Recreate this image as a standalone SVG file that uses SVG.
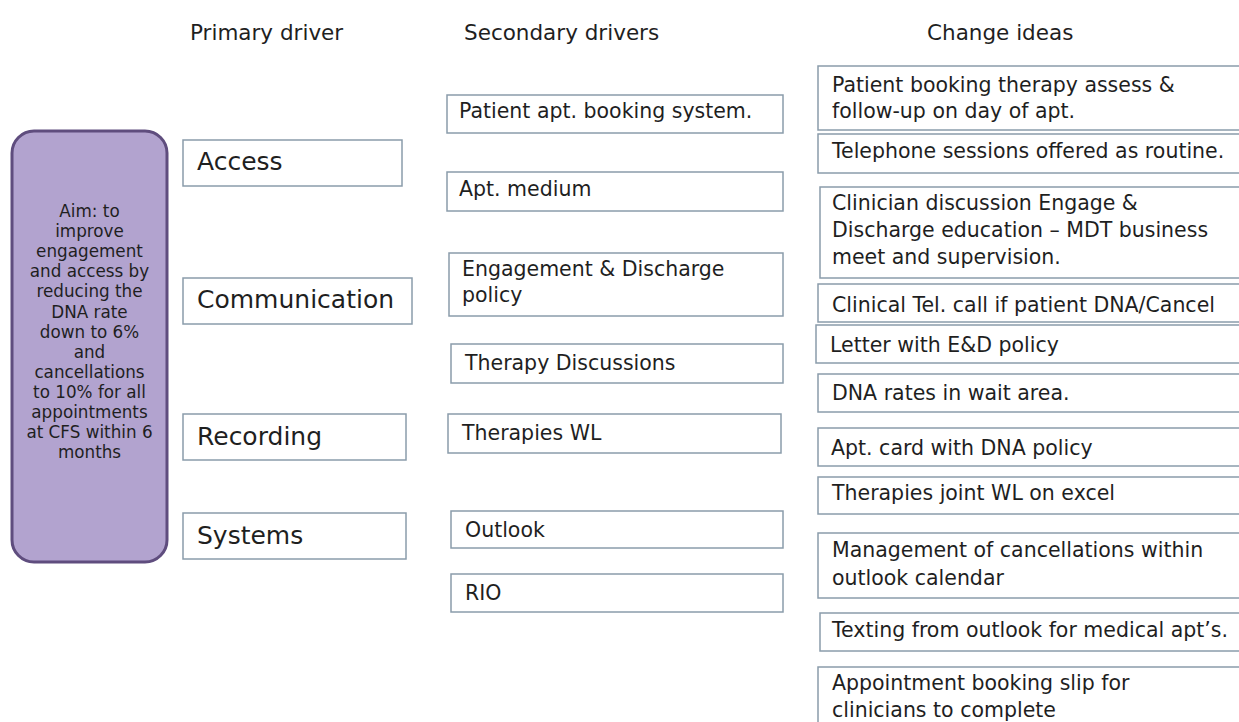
<svg xmlns="http://www.w3.org/2000/svg" width="1239" height="722" viewBox="0 0 1239 722">
<style>
text{font-family:"DejaVu Sans","Open Sans",sans-serif;fill:#1f1f1f}
.hd{font-size:21.5px}
.pb{font-size:25px}
.sb{font-size:20.5px}
.ab{font-size:16.8px;text-anchor:middle}
.box{fill:#ffffff;stroke:#8a9cab;stroke-width:1.5}
</style>
<rect width="1239" height="722" fill="#ffffff"/>
<g id="headers">
<text class="hd" x="190" y="40">Primary driver</text>
<text class="hd" x="464" y="40">Secondary drivers</text>
<text class="hd" x="927" y="40">Change ideas</text>
</g>
<g id="aim">
<rect x="12" y="131" width="155" height="431" rx="22" fill="#b2a3cf" stroke="#5f4d7e" stroke-width="3"/>
<text class="ab" x="89.5" y="217">Aim: to</text>
<text class="ab" x="89.5" y="237">improve</text>
<text class="ab" x="89.5" y="257">engagement</text>
<text class="ab" x="89.5" y="277">and access by</text>
<text class="ab" x="89.5" y="297">reducing the</text>
<text class="ab" x="89.5" y="318">DNA rate</text>
<text class="ab" x="89.5" y="338">down to 6%</text>
<text class="ab" x="89.5" y="358">and</text>
<text class="ab" x="89.5" y="378">cancellations</text>
<text class="ab" x="89.5" y="398">to 10% for all</text>
<text class="ab" x="89.5" y="418">appointments</text>
<text class="ab" x="89.5" y="438">at CFS within 6</text>
<text class="ab" x="89.5" y="458">months</text>
</g>
<g id="primary-access"><rect class="box" x="183" y="140" width="219" height="46"/><text class="pb" x="197" y="170">Access</text></g>
<g id="primary-communication"><rect class="box" x="183" y="278" width="229" height="46"/><text class="pb" x="197" y="308">Communication</text></g>
<g id="primary-recording"><rect class="box" x="183" y="414" width="223" height="46"/><text class="pb" x="197" y="445">Recording</text></g>
<g id="primary-systems"><rect class="box" x="183" y="513" width="223" height="46"/><text class="pb" x="197" y="544">Systems</text></g>
<g id="sec-booking"><rect class="box" x="447" y="95" width="336" height="38"/><text class="sb" x="459" y="118">Patient apt. booking system.</text></g>
<g id="sec-medium"><rect class="box" x="447" y="172" width="336" height="39"/><text class="sb" x="459" y="196">Apt. medium</text></g>
<g id="sec-engagement"><rect class="box" x="449" y="253" width="334" height="63"/><text class="sb" x="462" y="276">Engagement &amp; Discharge</text><text class="sb" x="462" y="302">policy</text></g>
<g id="sec-therapy-discussions"><rect class="box" x="451" y="344" width="332" height="39"/><text class="sb" x="465" y="370">Therapy Discussions</text></g>
<g id="sec-therapies-wl"><rect class="box" x="448" y="414" width="333" height="39"/><text class="sb" x="462" y="440">Therapies WL</text></g>
<g id="sec-outlook"><rect class="box" x="451" y="511" width="332" height="37"/><text class="sb" x="465" y="537">Outlook</text></g>
<g id="sec-rio"><rect class="box" x="451" y="574" width="332" height="38"/><text class="sb" x="465" y="600">RIO</text></g>
<g id="idea-1"><rect class="box" x="818" y="66" width="440" height="64"/><text class="sb" x="832" y="92">Patient booking therapy assess &amp;</text><text class="sb" x="832" y="118">follow-up on day of apt.</text></g>
<g id="idea-2"><rect class="box" x="818" y="134" width="440" height="39"/><text class="sb" x="832" y="158">Telephone sessions offered as routine.</text></g>
<g id="idea-3"><rect class="box" x="820" y="187" width="440" height="91"/><text class="sb" x="832" y="210">Clinician discussion Engage &amp;</text><text class="sb" x="832" y="237">Discharge education – MDT business</text><text class="sb" x="832" y="264">meet and supervision.</text></g>
<g id="idea-4"><rect class="box" x="818" y="284" width="440" height="38"/><text class="sb" x="832" y="312">Clinical Tel. call if patient DNA/Cancel</text></g>
<g id="idea-5"><rect class="box" x="816" y="325" width="440" height="38"/><text class="sb" x="830" y="352">Letter with E&amp;D policy</text></g>
<g id="idea-6"><rect class="box" x="818" y="374" width="440" height="38"/><text class="sb" x="832" y="400">DNA rates in wait area.</text></g>
<g id="idea-7"><rect class="box" x="818" y="428" width="440" height="38"/><text class="sb" x="831" y="455">Apt. card with DNA policy</text></g>
<g id="idea-8"><rect class="box" x="818" y="477" width="440" height="37"/><text class="sb" x="832" y="500">Therapies joint WL on excel</text></g>
<g id="idea-9"><rect class="box" x="818" y="533" width="440" height="65"/><text class="sb" x="832" y="557">Management of cancellations within</text><text class="sb" x="832" y="585">outlook calendar</text></g>
<g id="idea-10"><rect class="box" x="820" y="613" width="440" height="38"/><text class="sb" x="832" y="637">Texting from outlook for medical apt’s.</text></g>
<g id="idea-11"><rect class="box" x="818" y="667" width="440" height="70"/><text class="sb" x="832" y="690">Appointment booking slip for</text><text class="sb" x="832" y="717">clinicians to complete</text></g>
<g id="connectors"></g>
</svg>
